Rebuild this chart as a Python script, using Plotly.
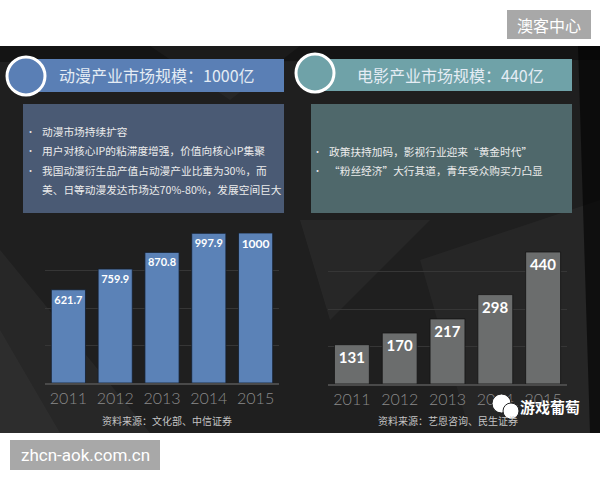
import plotly.graph_objects as go

# ---- data ----
years = ["2011", "2012", "2013", "2014", "2015"]
anime_values = [621.7, 759.9, 870.8, 997.9, 1000]
film_values = [131, 170, 217, 298, 440]
anime_title = "动漫产业市场规模：1000亿"
film_title = "电影产业市场规模：440亿"
anime_points = ["动漫市场持续扩容",
                "用户对核心IP的粘滞度增强，价值向核心IP集聚",
                "我国动漫衍生品产值占动漫产业比重为30%，而"]
anime_cont = "美、日等动漫发达市场达70%-80%，发展空间巨大"
film_points = ["政策扶持加码，影视行业迎来“黄金时代”",
               "“粉丝经济”大行其道，青年受众购买力凸显"]
anime_source = "资料来源：文化部、中信证券"
film_source = "资料来源：艺恩咨询、民生证券"

W, H = 600, 480
def px(x): return x / W
def py(y): return 1 - y / H

CJK = "Noto Sans CJK SC"
fig = go.Figure()

fig.add_trace(go.Bar(
    x=years, y=anime_values, xaxis="x", yaxis="y",
    marker=dict(color="#5b82b7", line=dict(color="rgba(20,30,45,0.8)", width=1)),
    text=[f"{v:g}" for v in anime_values], textposition="inside",
    insidetextanchor="end", textangle=0,
    textfont=dict(family="Lato", size=12, color="white", weight="bold"),
    cliponaxis=False, hoverinfo="skip"))
fig.add_trace(go.Bar(
    x=years, y=film_values, xaxis="x2", yaxis="y2",
    marker=dict(color="#6b6d6d", line=dict(color="rgba(20,20,20,0.8)", width=1)),
    text=[f"{v:g}" for v in film_values], textposition="inside",
    insidetextanchor="end", textangle=0,
    textfont=dict(family="Lato", size=15, color="white", weight="bold"),
    cliponaxis=False, hoverinfo="skip"))

shapes = []
# dark background
shapes.append(dict(type="rect", xref="paper", yref="paper", x0=0, x1=1,
                   y0=py(433), y1=py(46), fillcolor="#1f1f1f", line_width=0, layer="below"))
def poly(pts, color):
    path = "M " + " L ".join(f"{px(x)},{py(y)}" for x, y in pts) + " Z"
    shapes.append(dict(type="path", xref="paper", yref="paper", path=path,
                       fillcolor=color, line_width=0, layer="below"))
poly([(0, 46), (600, 46), (600, 60), (0, 62)], "rgba(0,0,0,0.35)")
poly([(0, 250), (150, 433), (0, 433)], "rgba(255,255,255,0.04)")
poly([(0, 330), (60, 433), (0, 433)], "rgba(255,255,255,0.03)")
poly([(300, 220), (430, 220), (330, 320)], "rgba(255,255,255,0.04)")
poly([(420, 260), (600, 200), (600, 433), (470, 433)], "rgba(255,255,255,0.03)")
poly([(578, 46), (600, 46), (600, 433), (590, 433)], "rgba(0,0,0,0.6)")
poly([(150, 46), (300, 46), (230, 100)], "rgba(255,255,255,0.03)")

# header bars
shapes.append(dict(type="rect", xref="paper", yref="paper", x0=px(26), x1=px(284),
                   y0=py(92), y1=py(59), fillcolor="#5a7fb5", line_width=0))
shapes.append(dict(type="rect", xref="paper", yref="paper", x0=px(315), x1=px(572),
                   y0=py(91), y1=py(59), fillcolor="#6fa2a8", line_width=0))
# header circles
shapes.append(dict(type="circle", xref="paper", yref="paper", x0=px(7), x1=px(45),
                   y0=py(95), y1=py(57), fillcolor="#5a7fb5", line=dict(color="white", width=3)))
shapes.append(dict(type="circle", xref="paper", yref="paper", x0=px(296), x1=px(334),
                   y0=py(92), y1=py(54), fillcolor="#6fa2a8", line=dict(color="white", width=3)))
# text boxes
shapes.append(dict(type="rect", xref="paper", yref="paper", x0=px(23), x1=px(284),
                   y0=py(213), y1=py(104), fillcolor="#4a5a74", line_width=0, layer="below"))
shapes.append(dict(type="rect", xref="paper", yref="paper", x0=px(311), x1=px(572),
                   y0=py(213), y1=py(104), fillcolor="#4f686b", line_width=0, layer="below"))
# watermark boxes
shapes.append(dict(type="rect", xref="paper", yref="paper", x0=px(507), x1=px(591),
                   y0=py(39), y1=py(10), fillcolor="#a8a8a8", line_width=0))
shapes.append(dict(type="rect", xref="paper", yref="paper", x0=px(10), x1=px(160),
                   y0=py(470), y1=py(440), fillcolor="#a8a8a8", line_width=0))
# wechat icon
shapes.append(dict(type="circle", xref="paper", yref="paper", x0=px(492), x1=px(511),
                   y0=py(413), y1=py(394), fillcolor="white", line=dict(color="#222", width=1)))
shapes.append(dict(type="circle", xref="paper", yref="paper", x0=px(503), x1=px(519),
                   y0=py(419), y1=py(403), fillcolor="white", line=dict(color="#222", width=1)))

ann = []
def text(x, y, s, size, color, anchor="center", family=CJK, weight="normal"):
    ann.append(dict(x=px(x), y=py(y), xref="paper", yref="paper", text=s, showarrow=False,
                    xanchor=anchor, yanchor="middle",
                    font=dict(family=family, size=size, color=color, weight=weight)))

text(157, 75, anime_title, 16, "#e4ecf4")
text(450, 75, film_title, 16, "#e4ecf4")
for i, s in enumerate(anime_points):
    y = [131, 150, 170][i]
    text(30, y, "•", 9, "#e6e6e6")
    text(40, y, s, 10.7, "#ececec", anchor="left")
text(40, 189, anime_cont, 10.7, "#ececec", anchor="left")
for i, s in enumerate(film_points):
    y = [151, 171][i]
    text(317, y, "•", 9, "#e6e6e6")
    text(327, y, s, 10.7, "#ececec", anchor="left")
text(167, 420, anime_source, 10, "#c4c4c4")
text(448, 420, film_source, 10, "#c4c4c4")
text(549, 25, "澳客中心", 16, "white")
text(85, 455, "zhcn-aok.com.cn", 17, "white", family="Roboto")
text(550, 406, "游戏葡萄", 15, "white", weight="bold")

axis_x = dict(showgrid=False, showline=True, linecolor="#4a4a4a", linewidth=2,
              ticks="", tickfont=dict(family="Lato", size=16, color="#8a8a8a", weight=300),
              ticklabelstandoff=0, fixedrange=True)
axis_y = dict(showgrid=True, gridcolor="#363636", gridwidth=1, zeroline=False,
              showticklabels=False, ticks="", fixedrange=True)

fig.update_layout(
    width=W, height=H, margin=dict(l=0, r=0, t=0, b=0),
    paper_bgcolor="white", plot_bgcolor="rgba(0,0,0,0)",
    showlegend=False, bargap=0.27,
    shapes=shapes, annotations=ann,
    xaxis=dict(axis_x, domain=[px(45), px(279)], anchor="y"),
    yaxis=dict(axis_y, domain=[py(383), py(233)], range=[0, 1000],
               tickvals=[250, 500, 750, 1000], anchor="x"),
    xaxis2=dict(axis_x, domain=[px(328), px(567)], anchor="y2"),
    yaxis2=dict(axis_y, domain=[py(384), py(234)], range=[0, 500],
                tickvals=[125, 250, 375, 500], anchor="x2"),
)

fig.write_html("out.html")
